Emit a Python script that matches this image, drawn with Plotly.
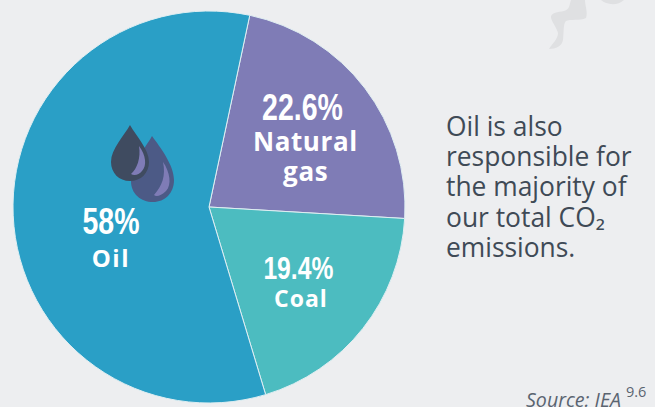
import plotly.graph_objects as go

categories = ["Natural gas", "Coal", "Oil"]
values = [22.6, 19.4, 58]
colors = ["#7f7cb6", "#4cbcc0", "#2a9fc6"]
W, H = 655, 407
BG = "#edeef0"


def px(d):
    out = []
    for seg in d:
        cmd, pts = seg[0], seg[1:]
        out.append(cmd + " ".join(f"{x / W:.5f},{1 - y / H:.5f}" for x, y in pts))
    return " ".join(out) + " Z"


def shape(d, color):
    return dict(type="path", xref="paper", yref="paper", path=px(d),
                fillcolor=color, line=dict(width=0), layer="above")


smoke1 = [("M", (571, 0)), ("C", (569, 6), (570, 9), (564, 11)),
          ("C", (558, 12), (551, 13), (551, 17)), ("C", (551, 21), (557, 28), (558, 33)),
          ("C", (558, 39), (552, 44), (549, 49)), ("C", (556, 49), (562, 46), (563, 40)),
          ("C", (564, 32), (563, 24), (566, 21)), ("C", (570, 19), (580, 21), (586, 18)),
          ("C", (588, 12), (585, 6), (585, 0))]
smoke2 = [("M", (601, 0)), ("C", (606, 5), (618, 6), (624, 0))]
back_drop = [("M", (152, 136)), ("C", (146, 147), (131, 164), (131, 181)),
             ("C", (131, 194), (141, 202), (153, 202)), ("C", (165, 202), (174, 193), (174, 180)),
             ("C", (174, 165), (160, 147), (152, 136))]
back_hi = [("M", (163, 162)), ("C", (170, 172), (172, 185), (166, 191)),
           ("C", (161, 196), (156, 197), (154, 195)), ("C", (162, 186), (166, 176), (163, 162))]
front_drop = [("M", (130, 125)), ("C", (124, 136), (111, 149), (111, 162)),
              ("C", (111, 173), (119, 181), (130, 181)), ("C", (141, 181), (149, 173), (149, 162)),
              ("C", (149, 149), (136, 136), (130, 125))]
front_hi = [("M", (139, 146)), ("C", (146, 155), (147, 166), (142, 171)),
            ("C", (139, 175), (134, 176), (131, 174)), ("C", (137, 169), (141, 158), (139, 146))]

fig = go.Figure(go.Pie(
    labels=categories, values=values, sort=False, direction="clockwise", rotation=12,
    textinfo="none", hoverinfo="label+percent", showlegend=False,
    marker=dict(colors=colors, line=dict(color="#dfeef2", width=1)),
    domain=dict(x=[13 / W, 405 / W], y=[4 / H, 396 / H]),
))


def note(x, y, text, size, family, color="white", xanchor="center", **kw):
    return dict(x=x / W, y=1 - y / H, xref="paper", yref="paper", text=text, showarrow=False,
                xanchor=xanchor, yanchor="middle", align=xanchor if xanchor != "center" else "center",
                font=dict(size=size, family=family, color=color), **kw)


LAB = "Open Sans, sans-serif"
NUM = "Liberation Sans, sans-serif"
DARK = "#3f4a56"
SRC = "#5a6470"
body_lines = ["Oil is also", "responsible for", "the majority of", "our total CO₂", "emissions."]
body_y = [126, 156, 186, 217, 247]

ann = [
    note(302, 107, "<b>22.6%</b>", 37, NUM),
    note(305, 141, "<b>Natural</b>", 26, LAB),
    note(305, 171, "<b>gas</b>", 26, LAB),
    note(298, 268, "<b>19.4%</b>", 32, NUM),
    note(301, 298, "<b>Coal</b>", 23, LAB),
    note(111, 222, "<b>58%</b>", 37, NUM),
    note(111, 257, "<b>Oil</b>", 24, LAB),
    note(623, 399, "<i>Source: IEA</i>", 19.6, LAB, color=SRC, xanchor="right"),
    note(624, 391, "9.6", 14.5, LAB, color=SRC, xanchor="left"),
]
ann += [note(444, y, t, 26.4, LAB, color=DARK, xanchor="left") for t, y in zip(body_lines, body_y)]

fig.update_layout(
    width=W, height=H, margin=dict(l=0, r=0, t=0, b=0), autosize=False,
    paper_bgcolor=BG, plot_bgcolor=BG,
    shapes=[shape(smoke1, "#dfe0e2"), shape(smoke2, "#dfe0e2"),
            shape(back_drop, "#4c5a86"), shape(back_hi, "#7f7cb6"),
            shape(front_drop, "#3f4b60"), shape(front_hi, "#7f7cb6")],
    annotations=ann,
)
post = """
document.body.style.margin='0';
document.body.style.background='#edeef0';
document.documentElement.style.overflow='hidden';
var spacing={'Natural':'0.6px','gas':'0.6px','Coal':'1px','Oil':'1.5px'};
document.querySelectorAll('.annotation-text').forEach(function(t){
  var s=t.textContent;
  if(/%$/.test(s)){
    var n=t.getComputedTextLength();
    t.setAttribute('lengthAdjust','spacingAndGlyphs');
    t.setAttribute('textLength',(n*0.77).toFixed(1));
  } else if(spacing[s]){
    t.style.letterSpacing=spacing[s];
  }
});
"""
fig.write_html("out.html", config=dict(displayModeBar=False), post_script=post)
